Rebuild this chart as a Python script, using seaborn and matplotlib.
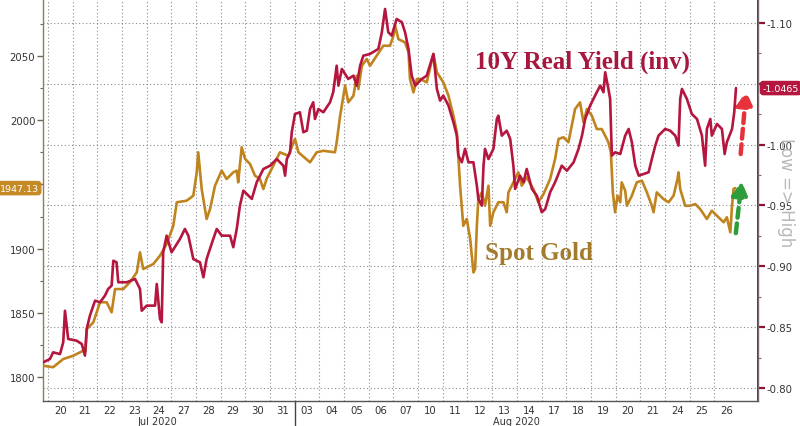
import numpy as np
import pandas as pd
import matplotlib
matplotlib.use("Agg")
import matplotlib.pyplot as plt
import matplotlib.transforms as mtransforms
import seaborn as sns

sns.set_theme(style="white")
plt.rcParams['font.family'] = ['DejaVu Sans']
plt.rcParams['axes.unicode_minus'] = False

# ---------------- data ----------------
day_labels = ["20", "21", "22", "23", "24", "27", "28", "29", "30", "31",
              "03", "04", "05", "06", "07", "10", "11", "12", "13", "14",
              "17", "18", "19", "20", "21", "24", "25", "26"]
month_labels = ["Jul 2020", "Aug 2020"]

# time in trading days since Jul 20 open
gold_t = [-0.19, 0.21, 0.62, 1.03, 1.43, 1.52, 1.58, 1.84, 2.11, 2.38, 2.58, 2.72, 3.05,
          3.32, 3.60, 3.73, 3.86, 4.27, 4.54, 4.81, 5.08, 5.22, 5.62, 5.89, 6.03, 6.09,
          6.23, 6.43, 6.57, 6.77, 7.04, 7.24, 7.51, 7.65, 7.71, 7.85, 7.99, 8.19, 8.39,
          8.59, 8.73, 8.86, 9.13, 9.40, 9.74, 10.01, 10.15, 10.62, 10.89, 11.16, 11.63,
          11.70, 11.84, 12.04, 12.17, 12.38, 12.51, 12.58, 12.72, 12.92, 13.05, 13.32,
          13.59, 13.86, 14.00, 14.07, 14.20, 14.47, 14.61, 14.67, 14.81, 14.95, 15.08,
          15.35, 15.62, 15.76, 16.02, 16.23, 16.43, 16.57, 16.70, 16.83, 16.97, 17.11,
          17.24, 17.31, 17.38, 17.44, 17.58, 17.71, 17.85, 17.92, 18.05, 18.25, 18.46,
          18.59, 18.66, 18.86, 19.06, 19.20, 19.40, 19.67, 19.87, 20.08, 20.35, 20.55,
          20.69, 20.89, 21.09, 21.36, 21.56, 21.70, 21.84, 22.04, 22.24, 22.44, 22.58,
          22.71, 22.81, 22.89, 22.98, 23.08, 23.19, 23.25, 23.39, 23.46, 23.66, 23.86,
          24.07, 24.27, 24.47, 24.54, 24.67, 24.94, 25.15, 25.35, 25.51, 25.55, 25.62,
          25.82, 26.02, 26.23, 26.43, 26.70, 26.90, 27.17, 27.38, 27.51, 27.65, 27.72,
          27.78, 27.85]
gold = [1808.8, 1807.6, 1814.0, 1816.6, 1820.5, 1819.7, 1837.4, 1842.6, 1858.2, 1858.2,
        1850.4, 1868.5, 1868.5, 1873.8, 1881.5, 1897.1, 1884.1, 1888.0, 1894.5, 1903.6,
        1917.8, 1936.1, 1937.3, 1941.2, 1959.4, 1975.0, 1946.4, 1923.1, 1930.8, 1949.0,
        1960.7, 1954.2, 1959.4, 1960.7, 1951.6, 1978.9, 1969.8, 1965.9, 1956.8, 1954.2,
        1946.4, 1954.2, 1964.6, 1975.0, 1972.3, 1985.4, 1975.0, 1967.2, 1975.0, 1976.2,
        1975.0, 1982.8, 2003.5, 2026.9, 2013.9, 2019.1, 2034.6, 2024.3, 2042.4, 2047.7,
        2042.4, 2050.2, 2058.0, 2058.0, 2065.8, 2073.6, 2063.2, 2060.6, 2052.9, 2032.1,
        2021.7, 2032.1, 2032.1, 2029.5, 2051.6, 2037.3, 2029.5, 2019.1, 2003.5, 1990.6,
        1949.0, 1917.8, 1923.1, 1907.5, 1881.5, 1884.1, 1917.8, 1938.6, 1943.8, 1933.4,
        1949.0, 1917.8, 1928.3, 1936.1, 1936.1, 1928.3, 1943.8, 1951.6, 1959.4, 1949.0,
        1955.5, 1946.4, 1936.1, 1942.5, 1954.2, 1969.8, 1985.4, 1986.7, 1982.8, 2008.7,
        2013.9, 1998.4, 2008.7, 2003.5, 1993.1, 1993.1, 1987.9, 1982.8, 1975.0, 1943.8,
        1928.3, 1941.2, 1936.1, 1951.6, 1945.1, 1933.4, 1941.2, 1951.6, 1952.9, 1943.8,
        1933.4, 1928.3, 1943.8, 1938.6, 1936.1, 1941.2, 1954.2, 1959.4, 1946.4, 1933.4,
        1933.4, 1934.7, 1930.8, 1923.1, 1929.5, 1924.4, 1920.5, 1924.4, 1912.7, 1933.4,
        1946.4, 1947.13]

yield_t = [-0.19, 0.08, 0.21, 0.49, 0.62, 0.69, 0.82, 1.16, 1.37, 1.50, 1.57, 1.70, 1.91,
           2.11, 2.31, 2.44, 2.58, 2.65, 2.78, 2.85, 3.19, 3.53, 3.73, 3.80, 4.00, 4.34,
           4.41, 4.54, 4.61, 4.67, 4.81, 5.01, 5.35, 5.55, 5.69, 5.89, 6.16, 6.30, 6.43,
           6.70, 6.84, 7.04, 7.38, 7.51, 7.65, 7.78, 7.92, 8.26, 8.46, 8.73, 9.00, 9.27,
           9.54, 9.61, 9.68, 9.81, 9.88, 10.01, 10.21, 10.35, 10.49, 10.62, 10.75, 10.82,
           10.96, 11.16, 11.43, 11.56, 11.70, 11.77, 11.91, 12.17, 12.38, 12.51, 12.65,
           12.78, 13.05, 13.39, 13.53, 13.66, 13.79, 13.93, 14.13, 14.34, 14.47, 14.61,
           14.74, 14.88, 15.15, 15.35, 15.62, 15.76, 15.89, 16.02, 16.23, 16.43, 16.57,
           16.63, 16.77, 16.90, 17.04, 17.24, 17.38, 17.44, 17.58, 17.65, 17.71, 17.85,
           18.05, 18.19, 18.25, 18.39, 18.59, 18.73, 18.86, 18.93, 19.13, 19.27, 19.40,
           19.61, 19.81, 20.01, 20.15, 20.35, 20.55, 20.82, 21.03, 21.30, 21.50, 21.64,
           21.77, 21.97, 22.24, 22.38, 22.51, 22.58, 22.71, 22.78, 22.85, 22.98, 23.19,
           23.39, 23.53, 23.66, 23.80, 23.94, 24.14, 24.34, 24.47, 24.61, 24.74, 25.01,
           25.21, 25.42, 25.55, 25.62, 25.69, 25.89, 26.09, 26.30, 26.50, 26.63, 26.70,
           26.84, 26.90, 27.11, 27.31, 27.42, 27.51, 27.72, 27.81, 27.88]
real_yield = [-0.8211, -0.8238, -0.8293, -0.8279, -0.8376, -0.8635, -0.8403, -0.8389,
              -0.8362, -0.8266, -0.8485, -0.8594, -0.8718, -0.8704, -0.8759, -0.8814,
              -0.8841, -0.9046, -0.9033, -0.8869, -0.8869, -0.8896, -0.8814, -0.8635,
              -0.8677, -0.8677, -0.8855, -0.8567, -0.8540, -0.9115, -0.9252, -0.9115,
              -0.9225, -0.9307, -0.9252, -0.9060, -0.9033, -0.8910, -0.9060, -0.9225,
              -0.9307, -0.9252, -0.9252, -0.9157, -0.9307, -0.9499, -0.9622, -0.9554,
              -0.9691, -0.9800, -0.9827, -0.9882, -0.9827, -0.9745, -0.9882, -0.9937,
              -1.0102, -1.0252, -1.0266, -1.0102, -1.0115, -1.0293, -1.0348, -1.0211,
              -1.0293, -1.0266, -1.0348, -1.0431, -1.0649, -1.0485, -1.0622, -1.0540,
              -1.0567, -1.0485, -1.0649, -1.0731, -1.0745, -1.0787, -1.0924, -1.1115,
              -1.0924, -1.0896, -1.1033, -1.1006, -1.0924, -1.0787, -1.0567, -1.0485,
              -1.0540, -1.0567, -1.0745, -1.0458, -1.0362, -1.0403, -1.0321, -1.0184,
              -1.0074, -0.9910, -0.9855, -0.9965, -0.9855, -0.9855, -0.9663, -0.9554,
              -0.9499, -0.9827, -0.9965, -0.9882, -0.9965, -1.0211, -1.0238, -1.0074,
              -1.0115, -1.0047, -0.9827, -0.9636, -0.9745, -0.9691, -0.9800, -0.9636,
              -0.9581, -0.9444, -0.9471, -0.9609, -0.9691, -0.9827, -0.9786, -0.9855,
              -0.9965, -1.0074, -1.0211, -1.0321, -1.0431, -1.0485, -1.0431, -1.0595,
              -1.0458, -1.0376, -0.9910, -0.9937, -0.9923, -1.0074, -1.0129, -1.0020,
              -0.9827, -0.9745, -0.9759, -0.9773, -0.9882, -0.9992, -1.0074, -1.0129,
              -1.0115, -1.0074, -0.9992, -1.0376, -1.0458, -1.0376, -1.0252, -1.0211,
              -1.0074, -0.9827, -1.0129, -1.0211, -1.0074, -1.0170, -1.0129, -0.9923,
              -1.0020, -1.0129, -1.0266, -1.0465]

gold_df = pd.DataFrame({"t": gold_t, "gold": gold})
yield_df = pd.DataFrame({"t": yield_t, "real_yield": real_yield})

GOLD_C = "#C0841E"
RED_C = "#B5163F"
GRID_C = "#8A8A8A"

# ---------------- figure ----------------
fig = plt.figure(figsize=(8.0, 4.27), dpi=100)
ax = fig.add_axes([0.05375, 0.0585, 0.894, 0.9415])
ax2 = ax.twinx()

sns.lineplot(data=gold_df, x="t", y="gold", ax=ax, color=GOLD_C, lw=1.9,
             estimator=None, sort=False, zorder=3)
sns.lineplot(data=yield_df, x="t", y="real_yield", ax=ax2, color=RED_C, lw=1.9,
             estimator=None, sort=False, zorder=3)

n_days = len(day_labels)
ax.set_xlim(-0.2, n_days + 0.78)
ax.set_ylim(1781.3, 2094.4)
ax2.set_ylim(-0.7893, -1.1197)   # inverted axis

# left axis ticks
ax.set_yticks(np.arange(1800, 2051, 50))
ax.set_yticks(np.arange(1825, 2090, 50), minor=True)
ax.tick_params(axis="y", which="major", direction="out", length=4, width=1.0,
               color="#6E6650", labelsize=7.3, labelcolor="#333333", pad=1.5)
ax.tick_params(axis="y", which="minor", direction="out", length=2.5, width=0.8,
               color="#6E6650")

# right axis ticks
ax2.set_yticks(np.round(np.arange(-0.80, -1.101, -0.05), 2))
ax2.set_yticks(np.round(np.arange(-0.825, -1.11, -0.05), 3), minor=True)
ax2.yaxis.set_major_formatter(matplotlib.ticker.FormatStrFormatter("%.2f"))
ax2.tick_params(axis="y", which="major", direction="out", length=5, width=1.6,
                color="#8C1530", labelsize=7.3, labelcolor="#333333", pad=1)
ax2.tick_params(axis="y", which="minor", direction="out", length=2.5, width=0.8,
                color="#6E6E6E")

# x axis: gridlines at day boundaries, labels at day centres
ax.set_xticks(np.arange(0, n_days))
ax.set_xticklabels([])
ax.set_xticks(np.arange(n_days) + 0.5, minor=True)
ax.set_xticklabels(day_labels, minor=True)
ax.tick_params(axis="x", which="both", length=0, labelsize=7.3,
               labelcolor="#333333", pad=3)

ax.set_xlabel("")
ax.set_ylabel("")
ax2.set_ylabel("")

# grid
ax.grid(False)
ax2.grid(False)
for d in range(n_days):
    ax.axvline(d, color=GRID_C, lw=0.8, ls=(0, (1, 2.2)), zorder=1)
for v in ax2.get_yticks():
    ax2.axhline(v, color=GRID_C, lw=0.8, ls=(0, (1, 2.2)), zorder=1)

# spines
for a in (ax, ax2):
    a.spines["top"].set_visible(False)
ax.spines["left"].set_color("#8B7E5E")
ax.spines["bottom"].set_color("#555555")
ax2.spines["right"].set_color("#7E6A74")
ax2.spines["left"].set_visible(False)
ax2.spines["bottom"].set_visible(False)
for s in ("left", "bottom"):
    ax.spines[s].set_linewidth(1.0)
ax2.spines["right"].set_linewidth(1.0)

# month labels and separator
trans_x = mtransforms.blended_transform_factory(ax.transData, ax.transAxes)
sep = day_labels.index("03")
ax.plot([sep, sep], [0, -0.062], transform=trans_x, color="#444444", lw=1.0,
        clip_on=False)
ax.text(4.45, -0.037, month_labels[0], transform=trans_x, ha="center", va="top",
        fontsize=7.0, color="#333333")
ax.text(19.0, -0.037, month_labels[1], transform=trans_x, ha="center", va="top",
        fontsize=7.0, color="#333333")

# series labels
ax.text(17.3, 2046, "10Y Real Yield (inv)", fontsize=18, fontweight="bold",
        family="Liberation Serif", color="#A8173E", va="center", ha="left")
ax.text(17.7, 1897, "Spot Gold", fontsize=18, fontweight="bold",
        family="Liberation Serif", color="#A47A2C", va="center", ha="left")

# last value boxes
trans_l = mtransforms.blended_transform_factory(ax.transAxes, ax.transData)
ax.text(-0.006, gold[-1], f"{gold[-1]:.2f}", transform=trans_l, ha="right",
        va="center", fontsize=6.8, color="white",
        bbox=dict(boxstyle="round,pad=0.22,rounding_size=0.3", fc="#C58A25",
                  ec="#C58A25"), clip_on=False, zorder=5)
trans_r = mtransforms.blended_transform_factory(ax2.transAxes, ax2.transData)
ax2.text(1.006, real_yield[-1], f"{real_yield[-1]:.4f}", transform=trans_r,
         ha="left", va="center", fontsize=6.8, color="white",
         bbox=dict(boxstyle="round,pad=0.22,rounding_size=0.3", fc="#B5163F",
                   ec="#B5163F"), clip_on=False, zorder=5)

# side note
fig.text(0.982, 0.55, "Low => High", rotation=270, fontsize=12,
         color="#B8B8B8", ha="center", va="center")

# dashed arrows
ax2.annotate("", xy=(28.3, -1.046), xytext=(28.06, -0.990),
             arrowprops=dict(arrowstyle="-|>,head_length=0.7,head_width=0.4",
                             color="#E5323B", lw=3.2, ls=(0, (2.2, 1.3))), zorder=6)
ax2.annotate("", xy=(28.12, -0.972), xytext=(27.86, -0.925),
             arrowprops=dict(arrowstyle="-|>,head_length=0.7,head_width=0.4",
                             color="#2E9E3C", lw=3.2, ls=(0, (2.2, 1.3))), zorder=6)

fig.savefig("out.png", dpi=100)
